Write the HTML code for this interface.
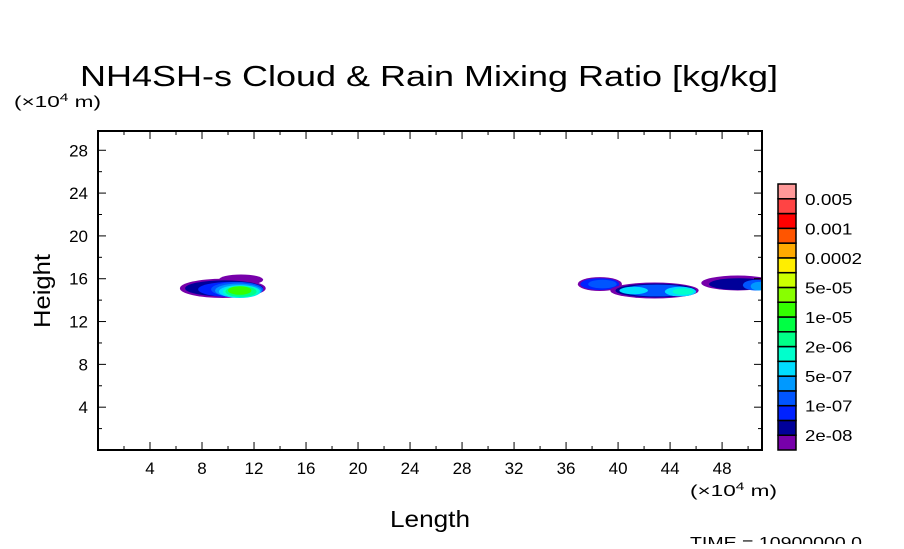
<!DOCTYPE html>
<html><head><meta charset="utf-8"><style>
body{margin:0;background:#fff;}
svg text{font-family:"Liberation Sans",sans-serif;fill:#000;}
</style></head><body>
<svg id="chart" width="904" height="544" viewBox="0 0 904 544" xmlns="http://www.w3.org/2000/svg">
<text x="80" y="86" font-size="29" textLength="698" lengthAdjust="spacingAndGlyphs">NH4SH-s Cloud &amp; Rain Mixing Ratio [kg/kg]</text>
<text x="14" y="107" font-size="16" textLength="87" lengthAdjust="spacingAndGlyphs">(×10<tspan font-size="11" dy="-6">4</tspan><tspan dy="6"> m)</tspan></text>
<text x="690" y="496" font-size="16" textLength="87" lengthAdjust="spacingAndGlyphs">(×10<tspan font-size="11" dy="-6">4</tspan><tspan dy="6"> m)</tspan></text>
<text x="390" y="527" font-size="23" textLength="80" lengthAdjust="spacingAndGlyphs">Length</text>
<text x="50" y="291" font-size="23" text-anchor="middle" textLength="74" lengthAdjust="spacingAndGlyphs" transform="rotate(-90 50 291)">Height</text>
<text x="690" y="548" font-size="16" textLength="172" lengthAdjust="spacingAndGlyphs">TIME = 10900000.0</text>
<defs><clipPath id="pc"><rect x="98" y="131" width="664" height="319"/></clipPath></defs>
<g id="field" clip-path="url(#pc)"></g>
<g id="axes"></g>
<g id="cbar"></g>
</svg>
<script>
const xTicks=[4,8,12,16,20,24,28,32,36,40,44,48];
const yTicks=[4,8,12,16,20,24,28];
const levelColors=["#7700aa","#000099","#0022ff","#0055ff","#0099ff","#00ddff","#00ffcc","#00ff88","#00ff44","#33ff00","#88ff00","#ccff00","#ffee00","#ffaa00","#ff5500","#ff0000","#ff4444","#ff9999"];
const levelLabels=["2e-08","1e-07","5e-07","2e-06","1e-05","5e-05","0.0002","0.001","0.005"];
// cloud blobs: center x, center y, radius x, radius y (data units), contour level
const blobX=[9.6,11.0,9.7,10.2,10.7,10.8,10.9,11.0,11.0,10.9, 38.6,38.6,38.8,42.8,42.9,43.0,44.8,41.2,45.0,49.2,49.3,50.6,50.8];
const blobY=[15.1,15.9,15.1,15.0,15.0,14.9,14.8,14.8,14.8,14.9, 15.5,15.5,15.5,14.9,14.9,14.9,14.8,14.9,14.8,15.6,15.5,15.4,15.3];
const blobRX=[3.3,1.7,3.0,2.5,2.0,1.8,1.6,1.4,1.2,0.9, 1.7,1.5,1.1,3.4,3.1,2.7,1.2,1.1,0.8,2.8,2.3,1.0,0.6];
const blobRY=[0.9,0.5,0.75,0.7,0.7,0.65,0.6,0.55,0.5,0.4, 0.65,0.55,0.4,0.75,0.65,0.55,0.45,0.35,0.3,0.7,0.55,0.5,0.4];
const blobLevel=[0,0,1,2,3,4,5,6,7,9, 0,2,3,0,1,3,5,5,6,0,1,3,4];
const X0=98,X1=762,Y0=450,Y1=131,XMAX=51.07,YMAX=29.8;
const sx=v=>X0+v/XMAX*(X1-X0), sy=v=>Y0-v/YMAX*(Y0-Y1);
const NS="http://www.w3.org/2000/svg";
function mk(t,a,p){const e=document.createElementNS(NS,t);for(const k in a)e.setAttribute(k,a[k]);p.appendChild(e);return e;}
const field=document.getElementById('field');
blobX.forEach((v,i)=>{const e=mk('ellipse',{cx:sx(v),cy:sy(blobY[i]),rx:sx(blobRX[i])-X0,ry:Y0-sy(blobRY[i]),fill:levelColors[blobLevel[i]]},field);

});
const ax=document.getElementById('axes');
const fr=mk('rect',{x:X0,y:Y1,width:X1-X0,height:Y0-Y1,fill:'none',stroke:'#000','stroke-width':2},ax);


for(let v=2;v<XMAX;v+=2){const L=v%4==0?8:4;mk('line',{x1:sx(v),x2:sx(v),y1:Y0,y2:Y0-L,stroke:'#000'},ax);mk('line',{x1:sx(v),x2:sx(v),y1:Y1,y2:Y1+L,stroke:'#000'},ax);}
for(let v=2;v<YMAX;v+=2){const L=v%4==0?8:4;mk('line',{x1:X0,x2:X0+L,y1:sy(v),y2:sy(v),stroke:'#000'},ax);mk('line',{x1:X1,x2:X1-L,y1:sy(v),y2:sy(v),stroke:'#000'},ax);}
xTicks.forEach(v=>{const t=mk('text',{x:sx(v),y:474,'font-size':17,'text-anchor':'middle'},ax);t.textContent=v;

});
yTicks.forEach(v=>{const t=mk('text',{x:88,y:sy(v)+6,'font-size':17,'text-anchor':'end'},ax);t.textContent=v;

});
const cb=document.getElementById('cbar');
const CT=184,CB=450,n=levelColors.length,h=(CB-CT)/n;
levelColors.forEach((c,i)=>{const r=mk('rect',{x:778,y:CB-(i+1)*h,width:18,height:h,fill:c,stroke:'#000','stroke-width':1.5},cb);

});
levelLabels.forEach((s,i)=>{const t=mk('text',{x:805,y:CB-(2*i+1)*h+6,'font-size':16,textLength:s.length*9.5,lengthAdjust:'spacingAndGlyphs'},cb);t.textContent=s;

});
</script>
</body></html>
